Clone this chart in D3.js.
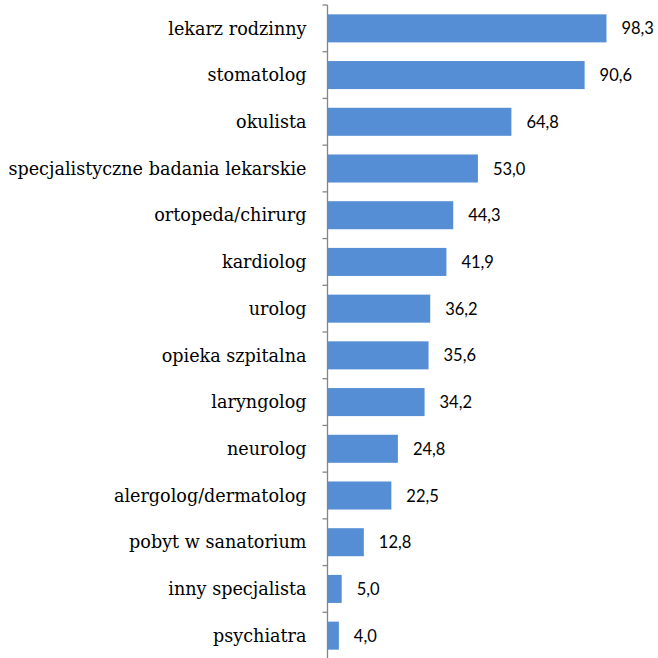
<!DOCTYPE html>
<html>
<head>
<meta charset="utf-8">
<script src="https://cdn.jsdelivr.net/npm/d3@7/dist/d3.min.js"></script>
<style>
  html, body { margin: 0; padding: 0; background: #fff; }
  svg { display: block; }
</style>
</head>
<body>
<svg id="chart" width="658" height="658"></svg>
<script>
// Odsetek korzystających z usług medycznych, wg rodzaju świadczenia
const categories = [
  "lekarz rodzinny",
  "stomatolog",
  "okulista",
  "specjalistyczne badania lekarskie",
  "ortopeda/chirurg",
  "kardiolog",
  "urolog",
  "opieka szpitalna",
  "laryngolog",
  "neurolog",
  "alergolog/dermatolog",
  "pobyt w sanatorium",
  "inny specjalista",
  "psychiatra"
];
const values = [98.3, 90.6, 64.8, 53.0, 44.3, 41.9, 36.2, 35.6, 34.2, 24.8, 22.5, 12.8, 5.0, 4.0];

const svg = d3.select("#chart");
const axisX = 327.5;

const x = d3.scaleLinear().domain([0, 100]).range([axisX, axisX + 283.8]);
const y = d3.scaleBand().domain(categories).range([5, 659]).paddingInner(0.4).paddingOuter(0.2);

const fmt = v => v.toFixed(1).replace(".", ",");

// słupki
svg.append("g")
  .selectAll("rect")
  .data(values)
  .join("rect")
  .attr("x", x(0))
  .attr("y", (d, i) => y(categories[i]))
  .attr("width", d => x(d) - x(0))
  .attr("height", y.bandwidth())
  .attr("fill", "#558ed5");

// oś kategorii z krótkimi znacznikami na granicach
const axisG = svg.append("g");
axisG.append("line")
  .attr("x1", axisX).attr("x2", axisX)
  .attr("y1", 5).attr("y2", 659)
  .attr("stroke", "#868686").attr("stroke-width", 1.3);
const step = y.step();
axisG.selectAll("line.tick")
  .data(d3.range(categories.length + 1))
  .join("line")
  .attr("class", "tick")
  .attr("x1", axisX - 5).attr("x2", axisX)
  .attr("y1", i => 5 + i * step).attr("y2", i => 5 + i * step)
  .attr("stroke", "#868686").attr("stroke-width", 1.3);

// etykiety kategorii
svg.append("g")
  .selectAll("text")
  .data(categories)
  .join("text")
  .attr("x", axisX - 21)
  .attr("y", d => y(d) + y.bandwidth() / 2)
  .attr("dy", "0.35em")
  .attr("text-anchor", "end")
  .attr("font-family", "'DejaVu Serif', serif")
  .attr("font-size", 17.6)
  .attr("fill", "#000")
  .text(d => d);

// etykiety wartości
svg.append("g")
  .selectAll("text")
  .data(values)
  .join("text")
  .attr("x", d => x(d) + 15)
  .attr("y", (d, i) => y(categories[i]) + y.bandwidth() / 2)
  .attr("dy", "0.37em")
  .attr("font-family", "Lato, 'Open Sans', sans-serif")
  .attr("font-size", 16.5)
  .attr("fill", "#000")
  .text(fmt);
</script>
</body>
</html>
